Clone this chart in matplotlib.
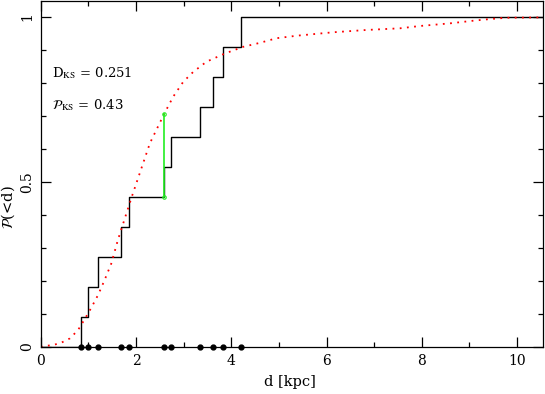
import matplotlib
matplotlib.use("Agg")
import matplotlib.pyplot as plt
from matplotlib.ticker import MultipleLocator
import numpy as np

# observed distances (kpc)
d_obs = [0.851, 0.990, 1.199, 1.674, 1.856, 2.588, 2.726, 3.341, 3.605, 3.835, 4.211]

# model cumulative distribution
model_d = [0.0, 0.08, 0.26, 0.43, 0.61, 0.78, 0.92, 1.06, 1.20, 1.34, 1.48, 1.62,
           1.91, 2.29, 2.59, 2.78, 2.99, 3.20, 3.48, 3.87, 4.25, 4.60, 4.95, 5.40,
           6.14, 6.84, 7.54, 7.96, 8.59, 9.08, 9.43, 9.78, 10.55]
model_p = [0.0, 0.003, 0.006, 0.013, 0.026, 0.051, 0.084, 0.119, 0.157, 0.203, 0.253, 0.325,
           0.455, 0.617, 0.706, 0.758, 0.803, 0.833, 0.864, 0.889, 0.909, 0.921, 0.935, 0.943,
           0.953, 0.960, 0.965, 0.972, 0.980, 0.988, 0.993, 0.997, 0.998]

D_KS = 0.251
P_KS = 0.43
d_max_idx = 5  # position of the largest deviation

xmax = 10.55
ymax = 1.0475

plt.rcParams['font.family'] = ['DejaVu Serif']
plt.rcParams['mathtext.fontset'] = 'stix'

fig = plt.figure(figsize=(5.45, 3.94), dpi=100)
ax = fig.add_axes([0.0749, 0.1193, 0.922, 0.878])

n = len(d_obs)
xs = [0.0] + d_obs + [xmax]
ys = [0.0] + [(i + 1) / n for i in range(n)] + [1.0]
ax.step(xs, ys, where='post', color='black', lw=1.0)

ax.plot(model_d, model_p, color='red', lw=1.3, linestyle=(0, (1, 3)))

xg = d_obs[d_max_idx]
y0 = d_max_idx / n
ax.plot([xg, xg], [y0, y0 + D_KS], color='#22ee22', lw=1.2,
        marker='o', ms=2.5, mfc='none', mec='#22ee22', mew=0.8)

ax.plot(d_obs, [0] * n, 'o', color='black', ms=3.5, clip_on=False, zorder=5)

ax.text(0.23, 0.83, r"D$_{\rm KS}$ = %.3f" % D_KS, fontsize=9.5, va='center')
ax.text(0.23, 0.733, r"$\mathcal{P}_{\rm KS}$ = %.2f" % P_KS, fontsize=9.5, va='center')

ax.set_xlim(0, xmax)
ax.set_ylim(0, ymax)
ax.xaxis.set_major_locator(MultipleLocator(2))
ax.xaxis.set_minor_locator(MultipleLocator(1))
ax.yaxis.set_major_locator(MultipleLocator(0.5))
ax.yaxis.set_minor_locator(MultipleLocator(0.1))
ax.set_yticks([0, 0.5, 1])
ax.set_yticklabels(['0', '0.5', '1'], rotation=90, va='center')
ax.tick_params(which='both', direction='in', top=True, right=True, labelsize=10)
ax.tick_params(which='major', length=7, width=0.9)
ax.tick_params(which='minor', length=3.5, width=0.9)
ax.tick_params(axis='x', pad=5)
ax.tick_params(axis='y', pad=5)
for s in ax.spines.values():
    s.set_linewidth(0.9)

ax.set_xlabel("d [kpc]", fontsize=10.5)
ax.set_ylabel(r"$\mathcal{P}$(<d)", fontsize=10.5)
ax.xaxis.set_label_coords(0.496, -0.081)
ax.yaxis.set_label_coords(-0.047, 0.405)

fig.savefig("out.png", dpi=100)
